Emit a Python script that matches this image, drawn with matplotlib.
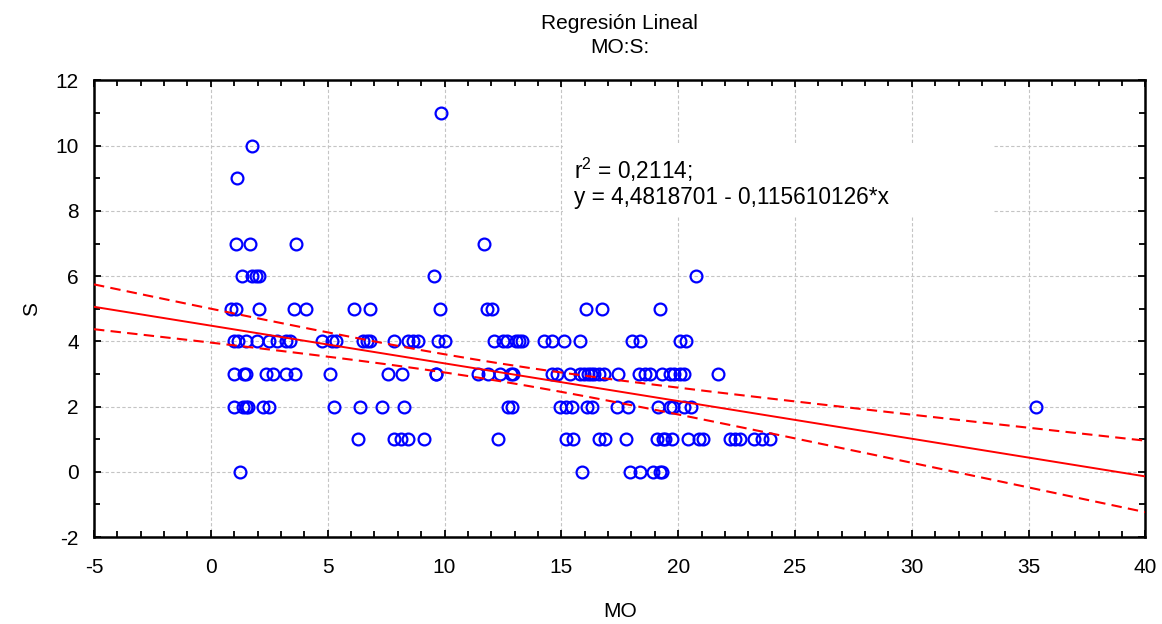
import numpy as np
import matplotlib.pyplot as plt
from matplotlib.patches import Rectangle
from matplotlib.ticker import MultipleLocator

plt.rcParams['font.family'] = ['Liberation Sans', 'DejaVu Sans']
plt.rcParams['mathtext.fontset'] = 'custom'
plt.rcParams['mathtext.rm'] = 'Liberation Sans'
plt.rcParams['axes.unicode_minus'] = False

# =============================
# Data: MO values grouped by S level
# =============================
mo_s0 = [1.25, 15.88, 17.92, 18.35, 18.94, 19.22, 19.32]
mo_s1 = [6.3, 7.85, 8.15, 8.45, 9.12, 12.3, 15.18, 15.5, 16.63, 16.85, 17.75,
         19.1, 19.33, 19.45, 19.74, 20.4, 20.88, 21.06, 22.2, 22.44, 22.63,
         23.23, 23.59, 23.91]
mo_s2 = [1.0, 1.36, 1.5, 1.6, 2.22, 2.5, 5.28, 6.4, 7.33, 8.27, 12.7, 12.88,
         14.95, 15.2, 15.44, 16.11, 16.3, 17.4, 17.84, 19.12, 19.63, 19.76,
         20.25, 20.53, 35.3]
mo_s3 = [1.0, 1.41, 1.5, 2.36, 2.65, 3.21, 3.6, 5.11, 7.6, 8.18, 9.62, 9.65,
         11.43, 11.88, 12.37, 12.83, 12.94, 14.61, 14.83, 15.37, 15.78, 15.98,
         16.13, 16.27, 16.39, 16.6, 16.83, 17.41, 18.33, 18.56, 18.8, 19.31,
         19.67, 19.81, 20.06, 20.24, 21.7]
mo_s4 = [1.0, 1.15, 1.5, 1.97, 2.5, 2.83, 3.21, 3.4, 4.76, 5.18, 5.37, 6.53,
         6.68, 6.82, 7.86, 8.45, 8.66, 8.86, 9.72, 10.02, 12.12, 12.49, 12.67,
         13.04, 13.18, 13.32, 14.25, 14.58, 15.11, 15.8, 18.01, 18.36, 20.07,
         20.33]
mo_s5 = [0.86, 1.08, 2.05, 3.57, 4.08, 6.13, 6.82, 9.81, 11.81, 12.02, 16.05,
         16.73, 19.21]
mo_s6 = [1.35, 1.78, 1.93, 2.08, 9.55, 20.75]
mo_s7 = [1.09, 1.69, 3.65, 11.69]
mo_s9 = [1.13]
mo_s10 = [1.78]
mo_s11 = [9.83]

groups = {0: mo_s0, 1: mo_s1, 2: mo_s2, 3: mo_s3, 4: mo_s4, 5: mo_s5,
          6: mo_s6, 7: mo_s7, 9: mo_s9, 10: mo_s10, 11: mo_s11}

mo = np.concatenate([np.array(v, float) for v in groups.values()])
s = np.concatenate([np.full(len(v), k, float) for k, v in groups.items()])

# regression reported on the chart
intercept = 4.4818701
slope = -0.115610126
r2_text = "0,2114"

# =============================
# Confidence band (95%)
# =============================
n = len(mo)
xbar = mo.mean()
sxx = np.sum((mo - xbar) ** 2)
resid = s - (intercept + slope * mo)
se = np.sqrt(np.sum(resid ** 2) / (n - 2))
t_crit = 1.975

xs = np.linspace(-5, 40, 200)
ys = intercept + slope * xs
hw = t_crit * se * np.sqrt(1.0 / n + (xs - xbar) ** 2 / sxx)

# =============================
# Plot
# =============================
fig = plt.figure(figsize=(11.62, 6.24), dpi=100)
ax = fig.add_axes([0.0809, 0.1394, 0.9049, 0.7316])

ax.plot(mo, s, 'o', ms=8.5, mfc='none', mec='#0000ff', mew=1.6, zorder=3)
ax.plot(xs, ys, '-', color='#ff0000', lw=1.4, zorder=4)
ax.plot(xs, ys + hw, '--', color='#ff0000', lw=1.5, dashes=(5, 3), zorder=4)
ax.plot(xs, ys - hw, '--', color='#ff0000', lw=1.5, dashes=(5, 3), zorder=4)

ax.set_xlim(-5, 40)
ax.set_ylim(-2, 12)
ax.xaxis.set_major_locator(MultipleLocator(5))
ax.xaxis.set_minor_locator(MultipleLocator(1))
ax.yaxis.set_major_locator(MultipleLocator(2))
ax.yaxis.set_minor_locator(MultipleLocator(1))

ax.tick_params(which='both', direction='in', top=True, right=True,
               labelsize=15, width=1.3, colors='black')
ax.tick_params(which='major', length=5)
ax.tick_params(which='minor', length=4)
ax.tick_params(axis='x', which='major', pad=15)
ax.tick_params(axis='y', which='major', pad=11)
for sp in ax.spines.values():
    sp.set_linewidth(1.8)

ax.grid(True, which='major', color='#c4c4c4', ls=(0, (3, 2)), lw=0.8)
ax.set_axisbelow(True)

# white box behind the equation
ax.add_patch(Rectangle((15.07, 7.85), 18.43, 2.22, facecolor='white',
                       edgecolor='none', zorder=2))
ax.text(15.56, 9.27, r"r$^{\mathregular{2}}$ = " + r2_text + ";",
        fontsize=16.3, va='center', ha='left', zorder=5)
ax.text(15.56, 8.4, "y = 4,4818701 - 0,115610126*x",
        fontsize=16.3, va='center', ha='left', zorder=5)

ax.set_xlabel("MO", fontsize=15, labelpad=18)
ax.set_ylabel("S", fontsize=15, labelpad=10)
ax.set_title("Regresión Lineal\nMO:S:", fontsize=15, linespacing=1.3, pad=20)

fig.savefig("out.png", dpi=100)
